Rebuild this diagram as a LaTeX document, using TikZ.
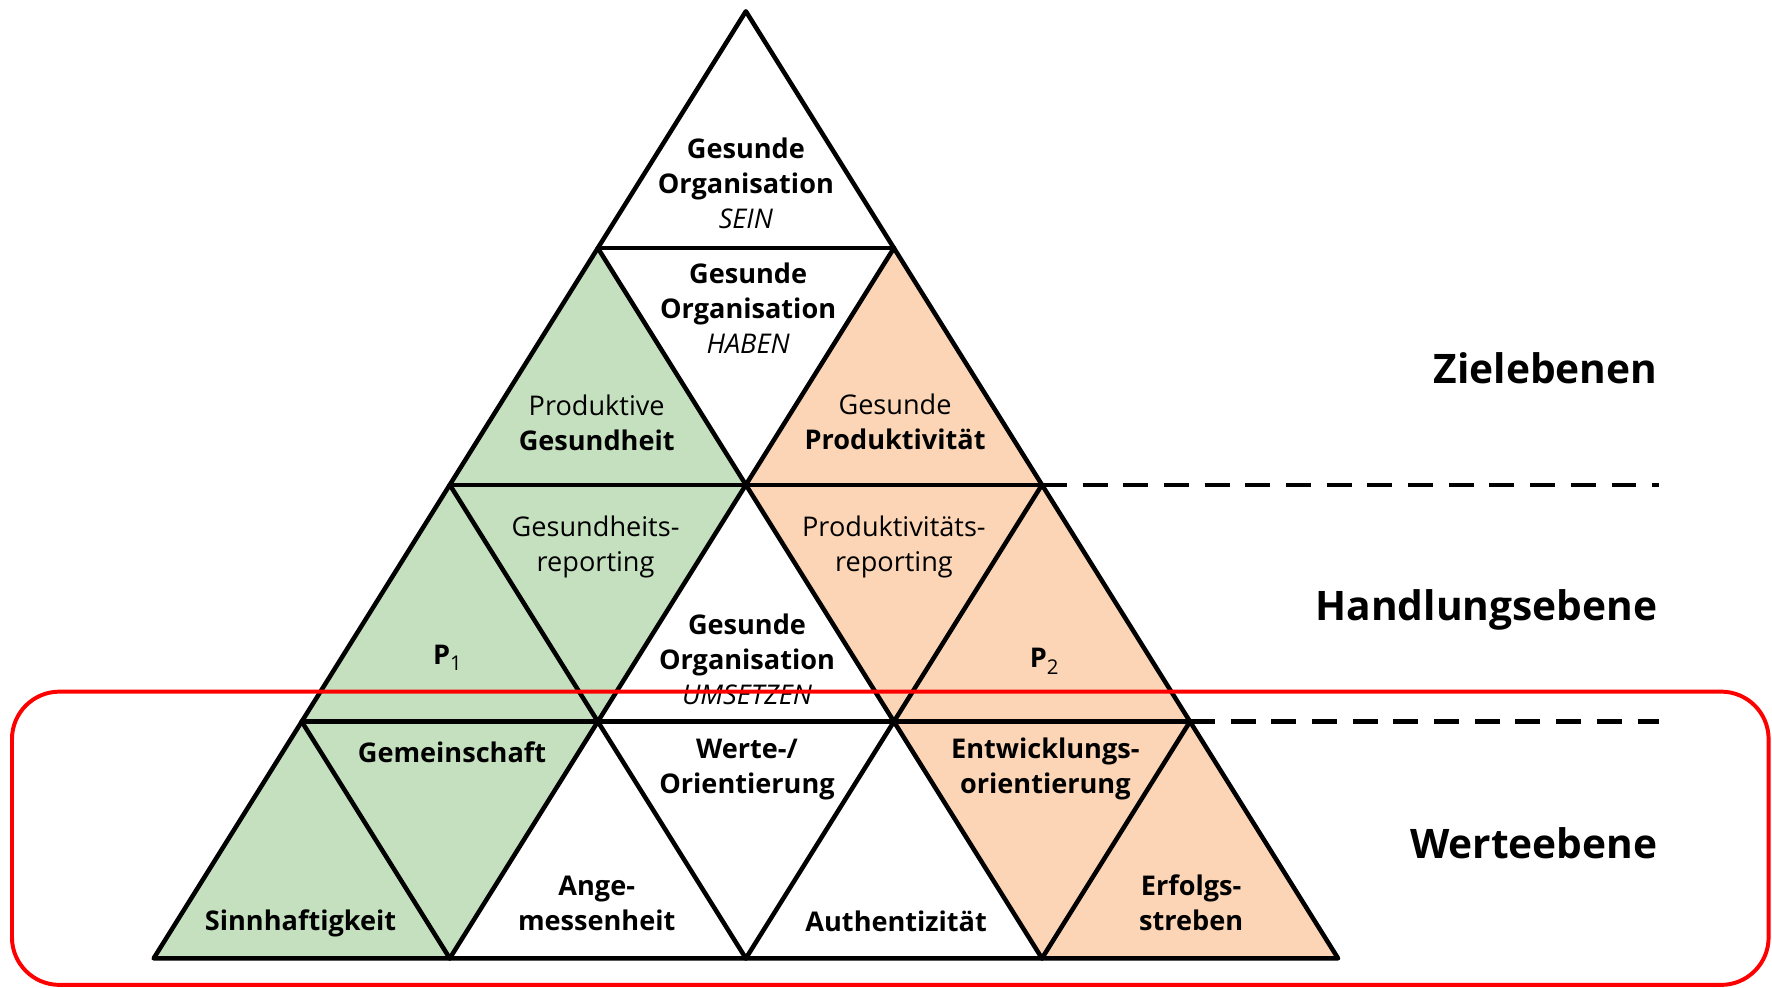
\documentclass[tikz,border=0pt]{standalone}
\usepackage{fontspec}
\setmainfont{Open Sans}
\definecolor{pgreen}{HTML}{C5E0BF}
\definecolor{porange}{HTML}{FBD5B5}
\definecolor{frame}{HTML}{FF0000}
\newcommand{\psub}[1]{\raisebox{-0.45ex}{\fontsize{9}{9}\selectfont #1}}
\begin{document}
\begin{tikzpicture}[x=0.5pt,y=-0.5pt,
  edge/.style={line width=2pt, line join=round, line cap=round},
  sep/.style={line width=2pt, dash pattern=on 11pt off 7pt},
  lbl/.style={align=center, font=\fontsize{12}{15.5}\selectfont, inner sep=0pt},
  lvl/.style={anchor=east, font=\fontsize{18}{22}\selectfont\bfseries, inner sep=0pt}]
\useasboundingbox (0,0) rectangle (1568,873.4);

% grid points of the pyramid, row by row
\coordinate (A)  at (660,10);
\coordinate (B1) at (529,219.5);  \coordinate (B2) at (791,219.5);
\coordinate (C1) at (398,429);    \coordinate (C2) at (660,429);   \coordinate (C3) at (922,429);
\coordinate (D1) at (267,638.5);  \coordinate (D2) at (529,638.5); \coordinate (D3) at (791,638.5); \coordinate (D4) at (1053,638.5);
\coordinate (E1) at (136,848);    \coordinate (E2) at (398,848);   \coordinate (E3) at (660,848);   \coordinate (E4) at (922,848);   \coordinate (E5) at (1184,848);

% green cells
\fill[pgreen] (B1)--(C1)--(C2)--cycle;
\fill[pgreen] (C1)--(D1)--(D2)--cycle;
\fill[pgreen] (C1)--(C2)--(D2)--cycle;
\fill[pgreen] (D1)--(E1)--(E2)--cycle;
\fill[pgreen] (D1)--(D2)--(E2)--cycle;
% orange cells
\fill[porange] (B2)--(C2)--(C3)--cycle;
\fill[porange] (C2)--(C3)--(D3)--cycle;
\fill[porange] (C3)--(D3)--(D4)--cycle;
\fill[porange] (D3)--(D4)--(E4)--cycle;
\fill[porange] (D4)--(E4)--(E5)--cycle;

% triangular grid
\draw[edge] (A)--(E1)--(E5)--cycle;
\draw[edge] (B1)--(B2) (C1)--(C3) (D1)--(D4);
\draw[edge] (B2)--(E2) (C3)--(E3) (D4)--(E4);
\draw[edge] (B1)--(E4) (C1)--(E3) (D1)--(E2);

% level separators
\coordinate (s1) at (1468,429);
\coordinate (s2) at (1468,638.5);
\draw[sep] (C3)--(s1);
\draw[sep] (D4)--(s2);

% cell texts
\node[lbl] (sein) at (660,162) {\textbf{Gesunde}\\\textbf{Organisation}\\\textit{SEIN}};
\node[lbl] (haben) at (662,273) {\textbf{Gesunde}\\\textbf{Organisation}\\\textit{HABEN}};
\node[lbl] (prodges) at (528,374) {Produktive\\\textbf{Gesundheit}};
\node[lbl] (gesprod) at (792,373) {Gesunde\\\textbf{Produktivität}};
\node[lbl] (gesrep) at (527,484) {Gesundheits-\\reporting};
\node[lbl] (prodrep) at (791,484) {Produktivitäts-\\reporting};
\node[lbl] (p1) at (396,582) {\textbf{P}\psub{1}};
\node[lbl] (p2) at (924,585) {\textbf{P}\psub{2}};
\node[lbl] (umsetzen) at (661,583) {\textbf{Gesunde}\\\textbf{Organisation}\\\textit{UMSETZEN}};
\node[lbl] (gemein) at (400,666) {\textbf{Gemeinschaft}};
\node[lbl] (werte) at (661,681) {\textbf{Werte-/}\\\textbf{Orientierung}};
\node[lbl] (entw) at (925,680) {\textbf{Entwicklungs-}\\\textbf{orientierung}};
\node[lbl] (sinn) at (266,817) {\textbf{Sinnhaftigkeit}};
\node[lbl] (ange) at (528,799) {\textbf{Ange-}\\\textbf{messenheit}};
\node[lbl] (auth) at (793,815) {\textbf{Authentizität}};
\node[lbl] (erfolg) at (1054,799) {\textbf{Erfolgs-}\\\textbf{streben}};

% level names
\node[lvl] (ziel) at (1467,326) {Zielebenen};
\node[lvl] (handl) at (1467,540) {Handlungsebene};
\node[lvl] (wert) at (1467,746) {Werteebene};

% highlight of the value level
\draw[frame, line width=1.75pt, rounded corners=21pt] (10.6,612) rectangle (1565,871.5);
\end{tikzpicture}
\end{document}
